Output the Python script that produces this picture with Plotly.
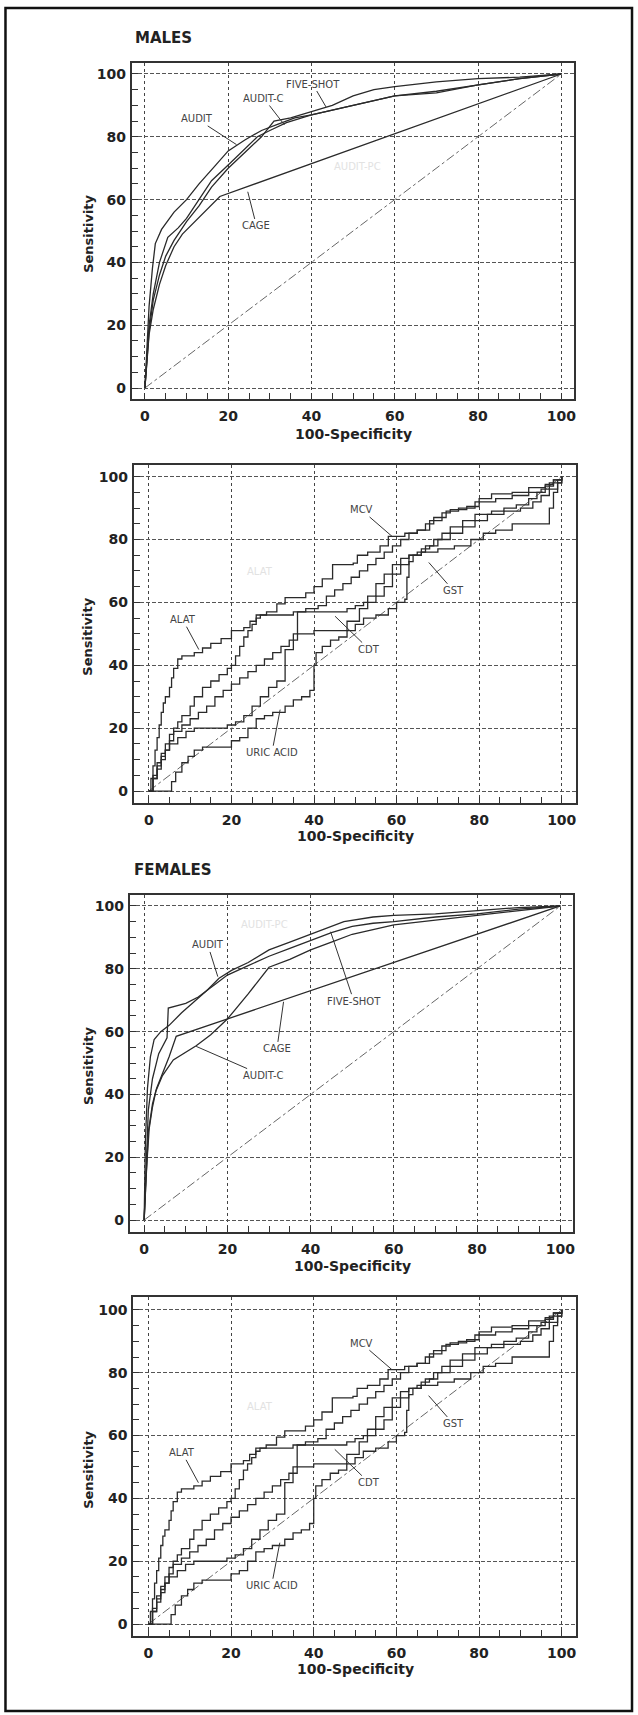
import plotly.graph_objects as go

# ---------------- DATA ----------------
# Panel 1: MALES, questionnaires (x = 100-Specificity, y = Sensitivity)
m_audit_x = [0, 0.5, 1, 1.8, 2.5, 4, 7, 10, 13, 17, 20, 24, 28, 32, 36, 40, 45, 50, 55, 60, 70, 80, 90, 100]
m_audit_y = [0, 15, 26, 38, 46, 50.5, 56, 60, 65, 71, 75.5, 79, 82, 84, 86, 87, 88.5, 90, 91.5, 93, 94, 96.5, 98.5, 100]
m_auditc_x = [0, 0.5, 1, 2, 3.5, 5.5, 8, 10, 13, 16, 20, 24, 27, 30, 34, 40, 45, 50, 55, 60, 70, 80, 90, 100]
m_auditc_y = [0, 12, 20, 30, 40, 48, 51, 54, 60, 66, 71, 76, 80, 82, 84.5, 87, 88.5, 90, 91.5, 93, 94.5, 96.5, 98.5, 100]
m_fiveshot_x = [0, 0.5, 1, 2, 3.5, 5, 7, 10, 13, 16, 20, 24, 28, 31, 35, 40, 45, 50, 55, 60, 70, 80, 90, 100]
m_fiveshot_y = [0, 10, 18, 28, 36, 42, 47, 53, 58, 64, 70, 75, 80, 85, 86, 88, 90, 93, 95, 96, 97.5, 98.5, 99, 100]
m_cage_x = [0, 0.5, 1, 2, 3.5, 5, 7, 9, 12, 15, 18, 100]
m_cage_y = [0, 10, 17, 25, 33, 39, 45, 49, 53, 57, 61, 100]

# Panel 3: FEMALES, questionnaires
f_audit_x = [0, 0.3, 0.8, 1.5, 2.4, 4, 6, 9, 12, 15, 18, 21, 25, 30, 35, 40, 45, 48, 55, 60, 70, 80, 90, 100]
f_audit_y = [0, 25, 42, 52, 57.5, 60, 62, 66, 69.5, 73, 77, 79.5, 82, 86, 88.5, 91, 93.5, 95, 96.5, 97, 97.5, 98.5, 99.5, 100]
f_fiveshot_x = [0, 0.5, 1, 2, 3.5, 5.5, 5.8, 10, 13, 17, 20, 25, 30, 35, 40, 45, 50, 55, 60, 70, 80, 90, 100]
f_fiveshot_y = [0, 20, 35, 45, 53, 58, 67.5, 69, 71, 75, 78, 81, 84, 86.5, 89, 91.5, 93.5, 94.5, 95, 96.5, 97.5, 99, 100]
f_cage_x = [0, 0.5, 1, 2, 3, 4.5, 6, 7.7, 100]
f_cage_y = [0, 15, 28, 37, 42, 47, 52, 58.5, 100]
f_auditc_x = [0, 0.5, 1.2, 2, 2.8, 4.4, 7, 10, 12.5, 16, 20, 25, 30, 35, 40, 45, 50, 55, 60, 70, 80, 90, 100]
f_auditc_y = [0, 15, 29, 36, 41, 46, 51, 53.5, 55.5, 59, 64, 72, 80.5, 83, 86, 88.5, 91, 92.5, 94, 95.5, 97, 98.5, 100]

# Panels 2 and 4: laboratory markers (stepwise ROC curves)
alat_x = [0, 0.5, 1, 1.5, 2, 2.5, 3, 3.5, 4, 5, 5.5, 6, 7, 8, 11, 13, 15, 17.5, 20, 23, 24.5, 26, 28.5, 31, 33, 38, 40, 42, 44.5, 49.5, 50.5, 53, 56, 58, 61, 62, 65, 68, 71, 73, 77, 80, 83, 88, 92, 96, 98, 100]
alat_y = [0, 4, 8, 13, 17, 21, 25, 28, 30, 33, 36, 39, 42, 43, 44, 45.5, 47, 48.5, 51, 52, 54, 56, 57, 59.5, 61.5, 63, 65, 67.5, 72, 72.5, 75, 76, 78, 81, 81, 82, 83, 86, 88.5, 89.5, 90.5, 93, 94.5, 95, 96.5, 97.5, 99, 100]
mcv_x = [0, 1, 2, 3, 4, 5, 6, 7, 8, 10, 11, 13, 15, 17, 19, 20, 21, 22, 23, 24, 25, 26, 27, 33, 35, 38, 41, 43, 45, 47, 49, 51, 53, 55, 57, 59, 61, 63, 65, 67, 69, 72, 75, 79, 84, 88, 92, 95, 97, 99, 100]
mcv_y = [0, 5, 9, 12, 15, 18, 20, 22, 24, 27, 30, 33, 35, 37, 39, 40, 43, 46, 49, 51, 53, 55, 56, 56, 57, 58, 59, 62, 64, 66, 68, 70, 72, 74, 76, 78, 80, 82, 83, 85, 87, 89, 90, 92, 93, 94, 95, 96, 98, 99, 100]
gst_x = [0, 1, 2, 3, 4, 5, 6, 8, 10, 12, 14, 16, 18, 20, 22, 24, 26, 28, 30, 32, 34, 36, 38, 40, 42, 45, 48, 51, 53, 55, 57, 59, 61, 63, 65, 67, 69, 71, 73, 76, 79, 83, 86, 89, 92, 94, 96, 98, 100]
gst_y = [0, 4, 7, 10, 13, 16, 19, 21, 23, 25, 27, 30, 32, 34, 36, 38, 40, 42, 44, 46, 48, 50, 50, 51, 51, 51, 54, 58, 62, 66, 69, 72, 74, 75, 76, 78, 80, 82, 84, 86, 88, 89, 90, 91, 93, 95, 97, 99, 100]
cdt_x = [0, 1, 2, 3, 4, 5, 7, 9, 11, 17, 19, 21, 23, 25, 27, 29, 31, 33, 35, 36, 46, 48, 50, 52, 55, 57, 59, 61, 63, 66, 70, 74, 78, 81, 84, 88, 96, 97, 98, 99, 100]
cdt_y = [0, 4, 8, 11, 13, 15, 17, 19, 20, 20, 21, 22, 24, 27, 30, 33, 35, 45, 50, 57, 57, 58, 59, 60, 62, 65, 69, 72, 75, 76, 77, 78, 80, 82, 83, 85, 85, 90, 95, 98, 100]
uric_x = [0, 5, 5.5, 6.5, 8, 9.5, 11, 13, 18, 20, 22, 24, 26, 28, 30, 33, 35, 37, 39, 40, 40.5, 42, 44, 46, 48, 50, 52, 55, 58, 60, 62, 62.5, 63, 64, 66, 68, 70, 73, 76, 79, 82, 86, 90, 93, 95, 97, 99, 100]
uric_y = [0, 0, 3, 6, 9, 11, 13, 14, 14, 16, 17, 20, 23, 24, 25, 27, 29, 30, 32, 40, 44, 46, 48, 49, 51, 53, 55, 56, 58, 60, 61, 68, 73, 75, 77, 78, 80, 82, 84, 86, 88, 89, 90, 92, 94, 96, 98, 100]

diag_x = [0, 100]
diag_y = [0, 100]

tick_vals = [0, 20, 40, 60, 80, 100]
x_title = "100-Specificity"
y_title = "Sensitivity"

# ---------------- FIGURE ----------------
W, H = 638, 1715
fig = go.Figure()

def px_x(p):
    return p / W

def px_y(p):
    return 1 - p / H

panels = [
    dict(dom_x=(132, 576), dom_y=(63, 399), xr=[-3.2, 103.1], yr=[-3.5, 103.5],
         curves=[(m_audit_x, m_audit_y), (m_auditc_x, m_auditc_y), (m_fiveshot_x, m_fiveshot_y), (m_cage_x, m_cage_y)],
         shape="linear",
         labels=[("FIVE-SHOT", 40.3, 96.8, 43.5, 89.5), ("AUDIT-C", 28.6, 92.2, 33.5, 83.8),
                 ("AUDIT", 12.5, 85.7, 22.0, 77.5), ("CAGE", 26.8, 51.6, 24.7, 62.5)],
         ghost=("AUDIT-PC", 51, 70.5), xt=434),
    dict(dom_x=(134, 578), dom_y=(465, 803), xr=[-3.7, 103.5], yr=[-3.8, 103.7],
         curves=[(alat_x, alat_y), (mcv_x, mcv_y), (gst_x, gst_y), (cdt_x, cdt_y), (uric_x, uric_y)],
         shape="hv",
         labels=[("MCV", 51.5, 89.4, 58.9, 81), ("ALAT", 8.2, 54.5, 12.1, 45), ("GST", 73.8, 63.7, 67.8, 72.7),
                 ("CDT", 53.4, 45, 45.1, 55.6), ("URIC ACID", 29.8, 12.2, 31.8, 25.9)],
         ghost=("ALAT", 26.9, 69.8), xt=836),
    dict(dom_x=(130, 575), dom_y=(895, 1232), xr=[-3.5, 103.1], yr=[-3.8, 103.5],
         curves=[(f_audit_x, f_audit_y), (f_fiveshot_x, f_fiveshot_y), (f_cage_x, f_cage_y), (f_auditc_x, f_auditc_y)],
         shape="linear",
         labels=[("AUDIT", 15.3, 87.6, 17.7, 77.5), ("FIVE-SHOT", 50.4, 69.7, 44.8, 91.8),
                 ("CAGE", 31.9, 54.5, 33.5, 69.5), ("AUDIT-C", 28.6, 46, 12.5, 55.3)],
         ghost=("AUDIT-PC", 28.8, 94), xt=1266),
    dict(dom_x=(133.5, 578), dom_y=(1297, 1636), xr=[-3.7, 103.5], yr=[-3.8, 104.1],
         curves=[(alat_x, alat_y), (mcv_x, mcv_y), (gst_x, gst_y), (cdt_x, cdt_y), (uric_x, uric_y)],
         shape="hv",
         labels=[("MCV", 51.5, 89.4, 58.9, 81), ("ALAT", 8.2, 54.5, 12.1, 45), ("GST", 73.8, 63.7, 67.8, 72.7),
                 ("CDT", 53.4, 45, 45.1, 55.6), ("URIC ACID", 29.8, 12.2, 31.8, 25.9)],
         ghost=("ALAT", 26.9, 69.2), xt=1669),
]

FONT = "DejaVu Sans"
annotations = []
layout_axes = {}

for i, p in enumerate(panels, start=1):
    xa = "x" if i == 1 else f"x{i}"
    ya = "y" if i == 1 else f"y{i}"
    # diagonal reference line
    fig.add_trace(go.Scatter(x=diag_x, y=diag_y, mode="lines", xaxis=xa, yaxis=ya,
                             line=dict(color="#666", width=1, dash="dashdot"),
                             hoverinfo="skip", showlegend=False))
    for cx, cy in p["curves"]:
        fig.add_trace(go.Scatter(x=cx, y=cy, mode="lines", xaxis=xa, yaxis=ya,
                                 line=dict(color="#2a2a2a", width=1.3, shape=p["shape"]),
                                 hoverinfo="skip", showlegend=False))
    common = dict(showline=True, mirror=True, linecolor="#333", linewidth=1.8,
                  showgrid=True, gridwidth=1, zeroline=False,
                  tickmode="array", tickvals=tick_vals,
                  ticks="inside", ticklen=6, tickcolor="#333", tickwidth=1,
                  tickfont=dict(family=FONT, size=14, color="#222", weight="bold"),
                  minor=dict(tickmode="linear", tick0=0, dtick=5, ticks="inside", ticklen=6,
                             tickcolor="#333", tickwidth=1, showgrid=False),
                  fixedrange=True)
    layout_axes["xaxis" if i == 1 else f"xaxis{i}"] = dict(
        common, domain=[px_x(p["dom_x"][0]), px_x(p["dom_x"][1])], range=p["xr"],
        anchor=ya, gridcolor="#444", griddash="dot", ticklabelstandoff=3)
    layout_axes["yaxis" if i == 1 else f"yaxis{i}"] = dict(
        common, domain=[px_y(p["dom_y"][1]), px_y(p["dom_y"][0])], range=p["yr"],
        anchor=xa, gridcolor="#555", griddash="4px,2px", ticklabelstandoff=1)

    # curve labels with leader lines
    for txt, tx, ty, hx, hy in p["labels"]:
        annotations.append(dict(text=txt, x=hx, y=hy, ax=tx, ay=ty, xref=xa, yref=ya,
                                axref=xa, ayref=ya, showarrow=True, arrowhead=0,
                                arrowwidth=1, arrowcolor="#333", standoff=0,
                                font=dict(family=FONT, size=10, color="#444")))
    g, gx, gy = p["ghost"]
    annotations.append(dict(text=g, x=gx, y=gy, xref=xa, yref=ya, showarrow=False,
                            font=dict(family=FONT, size=10, color="#e2e2e2")))
    # axis titles
    annotations.append(dict(text=x_title, x=50, xref=xa, y=px_y(p["xt"]), yref="paper",
                            showarrow=False, yanchor="middle",
                            font=dict(family=FONT, size=14, color="#222", weight="bold")))
    annotations.append(dict(text=y_title, x=px_x(88), xref="paper", y=49, yref=ya,
                            showarrow=False, textangle=-90, xanchor="center", yanchor="middle",
                            font=dict(family=FONT, size=13, color="#222", weight="bold")))

annotations.append(dict(text="MALES", x=px_x(133), y=px_y(38), xref="paper", yref="paper",
                        xanchor="left", yanchor="middle", showarrow=False,
                        font=dict(family=FONT, size=15, color="#222", weight="bold")))
annotations.append(dict(text="FEMALES", x=px_x(132), y=px_y(870), xref="paper", yref="paper",
                        xanchor="left", yanchor="middle", showarrow=False,
                        font=dict(family=FONT, size=15, color="#222", weight="bold")))

fig.update_layout(
    width=W, height=H, margin=dict(l=0, r=0, t=0, b=0),
    paper_bgcolor="white", plot_bgcolor="white",
    showlegend=False, annotations=annotations,
    shapes=[dict(type="rect", xref="paper", yref="paper",
                 x0=px_x(5.5), x1=px_x(634), y0=px_y(1711), y1=px_y(8),
                 line=dict(color="#111", width=2.5))],
    **layout_axes,
)

fig.write_html(
    "out.html",
    config={"displayModeBar": False, "staticPlot": True},
    post_script="document.body.style.margin='0';document.body.style.padding='0';"
                "document.body.style.overflow='hidden';",
)
